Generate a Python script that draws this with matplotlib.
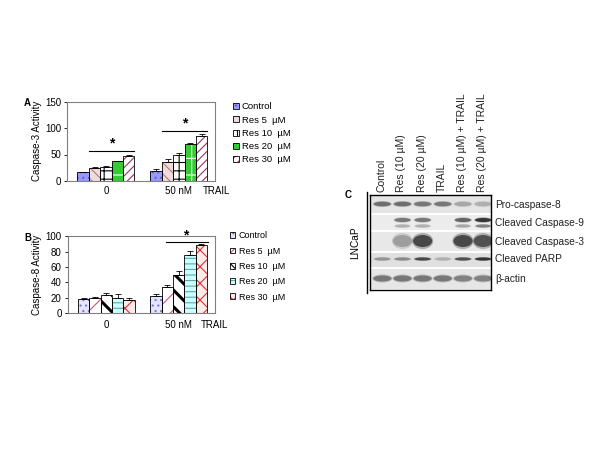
import numpy as np
import matplotlib
matplotlib.use("Agg")
import matplotlib.pyplot as plt
from matplotlib.patches import Patch, Rectangle, Ellipse

plt.rcParams["font.family"] = ["Liberation Sans", "DejaVu Sans"]
plt.rcParams["hatch.linewidth"] = 0.8

# ---- data -------------------------------------------------------------
series = ["Control", "Res 5  \u00b5M", "Res 10  \u00b5M", "Res 20  \u00b5M", "Res 30  \u00b5M"]
groups = ["0", "50 nM"]

casp3 = [[16, 24, 27, 37, 48],
         [19, 36, 50, 69, 85]]
casp3_err = [[1.5, 2, 1.5, 1.5, 1.5],
             [3, 5, 3, 3, 4]]

casp8 = [[18, 20, 24, 20, 17],
         [22, 34, 50, 76, 88]]
casp8_err = [[1.5, 1.5, 2, 4.5, 3],
             [2.5, 2, 5, 5, 2]]

lanes = ["Control", "Res (10 \u00b5M)", "Res (20 \u00b5M)", "TRAIL",
         "Res (10 \u00b5M) + TRAIL", "Res (20 \u00b5M) + TRAIL"]
proteins = ["Pro-caspase-8", "Cleaved Caspase-9", "Cleaved Caspase-3",
            "Cleaved PARP", "\u03b2-actin"]
# band darkness per lane (0 = none, 1 = black)
pro_casp8 = [0.6, 0.6, 0.55, 0.55, 0.3, 0.25]
casp9_upper = [0.05, 0.55, 0.55, 0.03, 0.65, 0.9]
casp9_lower = [0.03, 0.25, 0.25, 0.03, 0.3, 0.5]
casp3_band = [0.03, 0.35, 0.8, 0.03, 0.8, 0.75]
parp = [0.4, 0.45, 0.8, 0.25, 0.75, 0.9]
actin = [0.55, 0.55, 0.55, 0.55, 0.5, 0.5]

# ---- styles -----------------------------------------------------------
styleA = [("#9999ff", "...", "#6060c0"),
          ("#eedcdc", "\\\\\\", "#b07a7a"),
          ("#ffffff", "++", "#000000"),
          ("#33cc33", "+", "#ffffff"),
          ("#ffffff", "////", "#993366")]
styleB = [("#e4e4ff", "...", "#7777cc"),
          ("#ffffff", "//", "#cc5577"),
          ("#ffffff", "\\\\", "#000000"),
          ("#ccffff", "---", "#5fa8a8"),
          ("#ffeaea", "xx", "#dd3333")]

fig = plt.figure(figsize=(6, 4.5), dpi=100)
group_x = [0.0, 6.4]


def bar_panel(ax, vals, errs, styles, ymax, yticks, xpad):
    handles = []
    for i, (fc, hatch, hc) in enumerate(styles):
        xs = [g + i for g in group_x]
        ys = [vals[0][i], vals[1][i]]
        es = [errs[0][i], errs[1][i]]
        lw_h = 2.2 if (styles is styleB and i == 2) else 0.8
        with plt.rc_context({"hatch.linewidth": lw_h}):
            ax.bar(xs, ys, width=1.0, color=fc, hatch=hatch, edgecolor=hc,
                   linewidth=0, zorder=2)
        ax.bar(xs, ys, width=1.0, fill=False, edgecolor="black",
               linewidth=0.6, zorder=3)
        ax.errorbar(xs, ys, yerr=[[0, 0], es], fmt="none", ecolor="black",
                    elinewidth=0.6, capsize=2, capthick=0.6, zorder=4)
        with plt.rc_context({"hatch.linewidth": lw_h}):
            handles.append((Patch(facecolor=fc, hatch=hatch, edgecolor=hc, linewidth=0),
                            Patch(fill=False, edgecolor="black", linewidth=0.6)))
    ax.set_xlim(-1.4, 11.6)
    ax.set_ylim(0, ymax)
    ax.set_yticks(yticks)
    ax.set_xticks([g + 2 for g in group_x])
    ax.set_xticklabels(groups)
    ax.tick_params(axis="x", length=0, pad=xpad, labelsize=7)
    ax.tick_params(axis="y", length=2.5, width=0.6, labelsize=7, pad=2)
    for s in ax.spines.values():
        s.set_color("#808080")
        s.set_linewidth(0.8)
    return handles


# panel A
axA = fig.add_axes([0.112, 0.598, 0.247, 0.176])
hA = bar_panel(axA, casp3, casp3_err, styleA, 150, [0, 50, 100, 150], 4)
axA.set_ylabel("Caspase-3 Activity", fontsize=7)
axA.yaxis.set_label_coords(-0.169, 0.5)
axA.text(1.01, -0.07, "TRAIL", transform=axA.transAxes, fontsize=7,
         ha="center", va="top")
axA.plot([1 - 0.5, 4 + 0.5], [57, 57], color="black", lw=0.8)
axA.text(2.5, 58, "*", fontsize=10, ha="center", va="bottom", fontweight="bold")
axA.plot([6.4 + 0.5, 10.4 + 0.5], [95, 95], color="black", lw=0.8)
axA.text(8.9, 96, "*", fontsize=10, ha="center", va="bottom", fontweight="bold")
axA.legend(hA, series, loc="upper left", bbox_to_anchor=(1.12, 0.99),
           frameon=False, fontsize=6.8, handlelength=0.6, handleheight=0.6,
           handletextpad=0.3, labelspacing=0.45, borderaxespad=0, borderpad=0)
fig.text(0.045, 0.771, "A", fontsize=7, fontweight="bold", ha="center", va="center")

# panel B
axB = fig.add_axes([0.113, 0.304, 0.245, 0.171])
hB = bar_panel(axB, casp8, casp8_err, styleB, 100, [0, 20, 40, 60, 80, 100], 5)
axB.set_ylabel("Caspase-8 Activity", fontsize=7)
axB.yaxis.set_label_coords(-0.177, 0.5)
axB.text(1.0, -0.085, "TRAIL", transform=axB.transAxes, fontsize=7,
         ha="center", va="top")
axB.plot([6.4 + 0.9, 10.4 + 0.6], [92, 92], color="black", lw=0.8)
axB.text(9.0, 92.5, "*", fontsize=10, ha="center", va="bottom", fontweight="bold")
axB.legend(hB, series, loc="upper left", bbox_to_anchor=(1.10, 1.065),
           frameon=False, fontsize=6.5, handlelength=0.6, handleheight=0.6,
           handletextpad=0.4, labelspacing=0.7, borderaxespad=0, borderpad=0)
fig.text(0.047, 0.471, "B", fontsize=7, fontweight="bold", ha="center", va="center")

# panel C: western blot
axC = fig.add_axes([0.617, 0.3556, 0.2017, 0.211])
axC.set_xlim(-0.6, 5.4)
axC.set_ylim(95, 0)
axC.set_xticks([])
axC.set_yticks([])
for s in axC.spines.values():
    s.set_linewidth(1.0)
rows = [(0, 19), (19, 36), (36, 57), (57, 73), (73, 95)]
shades = ["#e4e4e4", "#ececec", "#e8e8e8", "#e0e0e0", "#e6e6e6"]
for (y0, y1), sh in zip(rows, shades):
    axC.add_patch(Rectangle((-0.6, y0 + 0.7), 6, y1 - y0 - 1.4, color=sh, lw=0))


def bands(vals, yc, w, h):
    for i, v in enumerate(vals):
        if v < 0.06:
            continue
        g = 0.88 - 0.8 * v
        # soft halo then core, for a blurred look
        axC.add_patch(Ellipse((i, yc), w * 1.1, h * 1.35, color=str(g), lw=0, alpha=0.35))
        axC.add_patch(Ellipse((i, yc), w, h, color=str(g), lw=0, alpha=0.9))


bands(pro_casp8, 9, 0.85, 4.5)
bands(casp9_upper, 25, 0.8, 4)
bands(casp9_lower, 31, 0.75, 3)
bands(casp3_band, 46, 0.95, 12)
bands(parp, 64, 0.8, 3)
bands(actin, 83.5, 0.9, 6)

for i, lab in enumerate(lanes):
    axC.text(i - 0.05, -3, lab, rotation=90, ha="center", va="bottom",
             fontsize=7.5, color="#222222")
for (y0, y1), name in zip(rows, proteins):
    yc = 64 if name == "Cleaved PARP" else (y0 + y1) / 2
    axC.text(5.6, yc, name, ha="left", va="center", fontsize=7.3,
             color="#222222", clip_on=False)
fig.add_artist(plt.Line2D([0.612, 0.612], [0.349, 0.573], color="black", lw=1.0))
fig.text(0.592, 0.46, "LNCaP", rotation=90, fontsize=7.3, ha="center", va="center")
fig.text(0.58, 0.566, "C", fontsize=7, fontweight="bold", ha="center", va="center")

fig.savefig("out.png", dpi=100)
